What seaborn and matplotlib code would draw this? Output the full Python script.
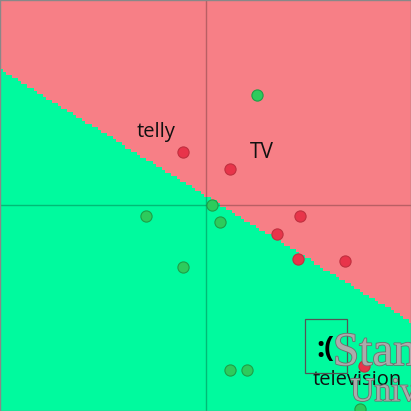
import numpy as np
import pandas as pd
import matplotlib
matplotlib.use("Agg")
import matplotlib.pyplot as plt
import matplotlib.patheffects as pe
from matplotlib.colors import ListedColormap
from matplotlib.patches import Rectangle
import seaborn as sns

# word vectors in 2d (x, y) with class labels
red_x = [-0.11, 0.12, 0.46, 0.35, 0.45, 0.68, 0.77]
red_y = [0.26, 0.18, -0.05, -0.14, -0.26, -0.27, -0.78]
green_x = [0.25, 0.03, -0.29, 0.07, -0.11, 0.12, 0.20, 0.75]
green_y = [0.54, 0.00, -0.05, -0.08, -0.30, -0.80, -0.80, -0.99]

# linear classifier: red when w1*x + w2*y + b > 0
w1, w2, b = 0.615, 1.0, -0.044
grid_n = 135

words = ["telly", "TV", "television"]
word_x = [-0.24, 0.275, 0.737]
word_y = [0.36, 0.26, -0.85]
word_size = [14.5, 15, 14.5]

sns.set_theme(style="white")
plt.rcParams["font.family"] = ["Open Sans", "DejaVu Sans"]

fig = plt.figure(figsize=(4.11, 4.11), dpi=100)
ax = fig.add_axes([0, 0, 1, 1])

g = np.linspace(-1, 1, grid_n)
gx, gy = np.meshgrid(g, g)
region = (w1 * gx + w2 * gy + b > 0).astype(int)
ax.imshow(region, origin="lower", extent=(-1, 1, -1, 1),
          cmap=ListedColormap(["#00FA9E", "#F77F86"]), interpolation="nearest",
          aspect="auto", zorder=0)

ax.axvline(0, color="black", alpha=0.25, lw=1, zorder=1)
ax.axhline(0, color="black", alpha=0.25, lw=1, zorder=1)

df = pd.DataFrame({
    "x": red_x + green_x,
    "y": red_y + green_y,
    "cls": ["red"] * len(red_x) + ["green"] * len(green_x),
})
sns.scatterplot(data=df[df.cls == "red"], x="x", y="y", color="#E8344A",
                edgecolor="#C0303F", s=65, linewidth=0.8, ax=ax, zorder=3)
sns.scatterplot(data=df[df.cls == "green"], x="x", y="y", color="#2DCB5C",
                edgecolor="#1E9E48", s=65, linewidth=0.8, ax=ax, zorder=3)

for w, x, y, fs in zip(words, word_x, word_y, word_size):
    ax.text(x, y, w, fontsize=fs, ha="center", va="center", color="#111111", zorder=4)

# logo remains in the bottom right corner
ax.add_patch(Rectangle((0.485, -0.815), 0.205, 0.265, fill=False,
                       ec="#555555", lw=0.9, zorder=4))
ax.text(0.582, -0.70, ":(", fontsize=21, ha="center", va="center",
        color="black", fontweight="bold", zorder=4)
shade = [pe.withStroke(linewidth=1.2, foreground="#6E6E6E")]
ax.text(0.62, -0.776, "Stan", fontsize=34, family="Liberation Serif",
        color="#ABABAB", va="baseline", zorder=5, path_effects=shade)
ax.text(0.705, -0.95, "Univ", fontsize=24, family="Liberation Serif",
        color="#ABABAB", va="baseline", zorder=5, path_effects=shade)

ax.set_xlim(-1, 1)
ax.set_ylim(-1, 1)
ax.set_xticks([])
ax.set_yticks([])
ax.set_xlabel("")
ax.set_ylabel("")
for sp in ax.spines.values():
    sp.set_visible(True)
    sp.set_color("#888888")
    sp.set_linewidth(1)

fig.savefig("out.png", dpi=100)
